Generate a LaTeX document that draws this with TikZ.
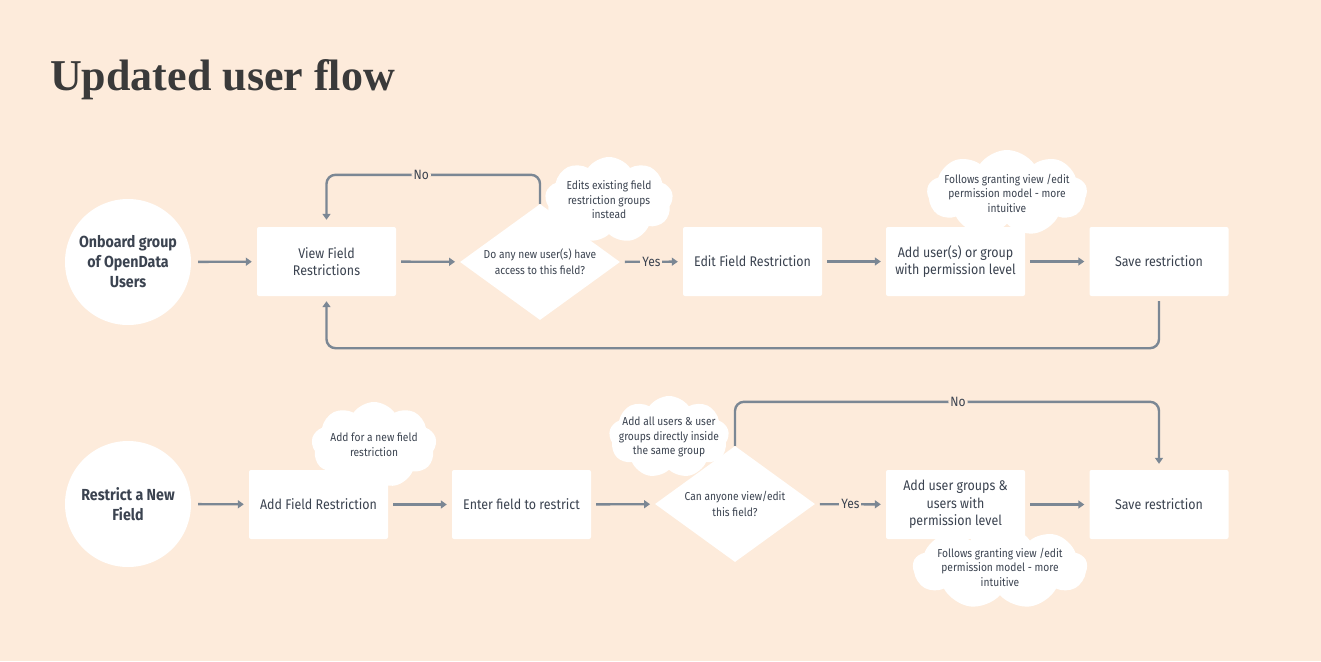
\documentclass[tikz,border=0pt]{standalone}
\usepackage{fontspec}
\setmainfont{Fira Sans}[FakeStretch=0.89]
\newfontfamily\titlefont{Liberation Serif}
\usetikzlibrary{arrows.meta,shapes.geometric,shapes.symbols}
\definecolor{bg}{HTML}{FDEBDB}
\definecolor{conn}{HTML}{7B8794}
\definecolor{txt}{HTML}{3B4350}
\definecolor{ttl}{HTML}{3A3A3A}
\tikzset{
  startc/.style={circle, fill=white, minimum size=126pt, inner sep=0pt, align=center,
    text=txt, font=\bfseries\fontsize{16}{20}\selectfont},
  stepbox/.style={rectangle, rounded corners=2pt, fill=white, minimum width=139pt,
    minimum height=69pt, align=center, text=txt, font=\fontsize{14}{17.5}\selectfont},
  decision/.style={diamond, fill=white, minimum width=160pt, minimum height=116pt,
    inner sep=0pt, aspect=1.4, align=center, text=txt, font=\fontsize{11.5}{16}\selectfont},
  note/.style={cloud, cloud puffs=9, cloud puff arc=110, cloud ignores aspect, fill=white, inner sep=0pt},
  notetxt/.style={align=center, text=txt, font=\fontsize{11.5}{14.5}\selectfont, inner sep=0pt},
  flow/.style={draw=conn, line width=2.4pt, -{Triangle[length=6pt,width=8pt]},
    shorten <=5pt, shorten >=5pt},
  lbl/.style={fill=bg, inner sep=2pt, text=txt, font=\fontsize{13.5}{15}\selectfont}
}
\begin{document}
\begin{tikzpicture}[x=1pt,y=-1pt]
\fill[bg] (0,0) rectangle (1321,661);
\useasboundingbox (0,0) rectangle (1321,661);
\node[anchor=base west, text=ttl, font=\titlefont\bfseries\fontsize{44}{48}\selectfont, inner sep=0pt] (title) at (50,90) {Updated user flow};

% Row 1
\node[startc] (s1) at (128,262) {Onboard group\\of OpenData\\Users};
\node[stepbox] (v1) at (326.5,261.5) {View Field\\Restrictions};
\node[decision] (d1) at (540,262) {Do any new user(s) have\\access to this field?};
\node[stepbox] (e1) at (752.5,261.5) {Edit Field Restriction};
\node[stepbox] (a1) at (955.5,261.5) {Add user(s) or group\\with permission level};
\node[stepbox] (sv1) at (1159,261.5) {Save restriction};

\draw[flow, shorten <=7pt] (s1) -- (v1);
\draw[flow] (v1) -- (d1);
\draw[flow] (d1) -- node[lbl] {Yes} (e1);
\draw[flow] (e1) -- (a1);
\draw[flow] (a1) -- (sv1);
\draw[flow, rounded corners=9pt] (sv1.south) -- ++(0,52) -| (v1.south);
\draw[flow, shorten <=0pt, shorten >=7pt, rounded corners=9pt] (d1.north) -- ++(0,-29) -| node[lbl, pos=0.278] {No} (v1.north);

\node[note, minimum width=128pt, minimum height=86pt,
  label={[notetxt]center:{Edits existing field\\restriction groups\\instead}}] (n1) at (609,200) {};
\node[note, minimum width=160pt, minimum height=86pt,
  label={[notetxt]center:{Follows granting view /edit\\permission model - more\\intuitive}}] (n2) at (1007,193) {};

% Row 2
\node[startc] (s2) at (128,504) {Restrict a New\\Field};
\node[stepbox] (f2) at (318.5,504.5) {Add Field Restriction};
\node[stepbox] (en2) at (521.5,504.5) {Enter field to restrict};
\node[decision] (d2) at (735,504) {Can anyone view/edit\\this field?};
\node[stepbox] (a2) at (955.5,504.5) {Add user groups \&\\users with\\permission level};
\node[stepbox] (sv2) at (1159,504.5) {Save restriction};

\draw[flow, shorten <=7pt] (s2) -- (f2);
\draw[flow] (f2) -- (en2);
\draw[flow] (en2) -- (d2);
\draw[flow] (d2) -- node[lbl] {Yes} (a2);
\draw[flow] (a2) -- (sv2);
\draw[flow, shorten <=0pt, shorten >=6pt, rounded corners=9pt] (d2.north) -- ++(0,-44) -| node[lbl, pos=0.263] {No} (sv2.north);

\node[note, minimum width=125pt, minimum height=86pt,
  label={[notetxt]center:{Add for a new field\\restriction}}] (n3) at (374,445) {};
\node[note, minimum width=120pt, minimum height=82pt,
  label={[notetxt]center:{Add all users \& user\\groups directly inside\\the same group}}] (n4) at (669,437) {};
\node[note, minimum width=174pt, minimum height=84pt,
  label={[notetxt]center:{Follows granting view /edit\\permission model - more\\intuitive}}] (n5) at (1000,567) {};
\end{tikzpicture}
\end{document}
